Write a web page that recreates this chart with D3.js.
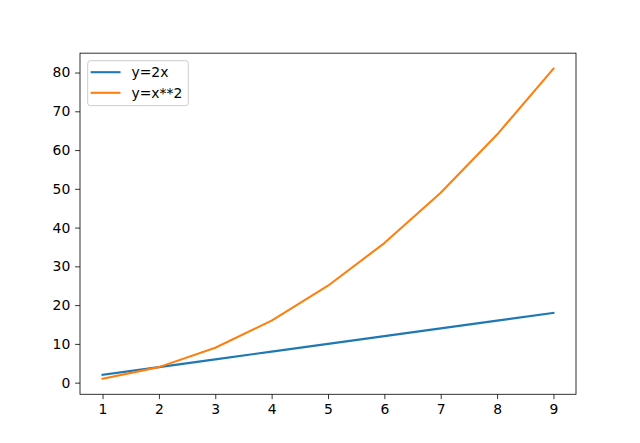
<!DOCTYPE html>
<html><head><meta charset="utf-8">
<script src="https://cdn.jsdelivr.net/npm/d3@7"></script>
<style>body{margin:0;background:#fff}svg{display:block}</style>
</head><body>
<script>
const xs = [1,2,3,4,5,6,7,8,9];
const ysLinear = [2,4,6,8,10,12,14,16,18];
const ysSquare = [1,4,9,16,25,36,49,64,81];
const seriesNames = ["y=2x","y=x**2"];
const seriesColors = ["#1f77b4","#ff7f0e"];
const xTicks = [1,2,3,4,5,6,7,8,9];
const yTicks = [0,10,20,30,40,50,60,70,80];

const W=640,H=443;
const L=80,R=576,T=53.16,B=394.27;
const svg=d3.select("body").append("svg").attr("width",W).attr("height",H);
const font="DejaVu Sans";
const x=d3.scaleLinear().domain([0.6,9.4]).range([L,R]);
const y=d3.scaleLinear().domain([-3,85]).range([B,T]);

const line=d3.line().x(d=>x(d[0])).y(d=>y(d[1]));
const series=[ysLinear,ysSquare];
series.forEach((s,i)=>{
  svg.append("path").datum(xs.map((v,j)=>[v,s[j]]))
    .attr("d",line).attr("fill","none").attr("stroke",seriesColors[i])
    .attr("stroke-width",2.08).attr("stroke-linecap","square").attr("stroke-linejoin","round");
});

const xa=svg.append("g").attr("transform",`translate(0,${B})`)
  .call(d3.axisBottom(x).tickValues(xTicks).tickSize(4.86).tickPadding(4.86).tickFormat(d3.format("d")));
const ya=svg.append("g").attr("transform",`translate(${L},0)`)
  .call(d3.axisLeft(y).tickValues(yTicks).tickSize(4.86).tickPadding(4.86).tickFormat(d3.format("d")));
[xa,ya].forEach(a=>{
  a.select(".domain").remove();
  a.selectAll(".tick line").attr("stroke","#000").attr("stroke-width",0.8);
  a.selectAll(".tick text").attr("font-family",font).attr("font-size","13.9px").attr("fill","#000");
});
xa.selectAll(".tick text").attr("dy","0.75em");

svg.append("rect").attr("x",L).attr("y",T).attr("width",R-L).attr("height",B-T)
  .attr("fill","none").attr("stroke","#000").attr("stroke-width",0.8);

// legend
const lg=svg.append("g");
lg.append("rect").attr("x",87.7).attr("y",60.7).attr("width",100.6).attr("height",45)
  .attr("rx",2.8).attr("fill","#fff").attr("fill-opacity",0.8).attr("stroke","#cccccc").attr("stroke-width",1);
seriesNames.forEach((n,i)=>{
  const yy=72.2+i*20.6;
  lg.append("line").attr("x1",91.7).attr("x2",119.5).attr("y1",yy).attr("y2",yy)
    .attr("stroke",seriesColors[i]).attr("stroke-width",2.08).attr("stroke-linecap","square");
  lg.append("text").attr("x",131.5).attr("y",yy).attr("dy","0.36em")
    .attr("font-family",font).attr("font-size","13.9px").attr("fill","#000").text(n);
});
</script>
</body></html>
